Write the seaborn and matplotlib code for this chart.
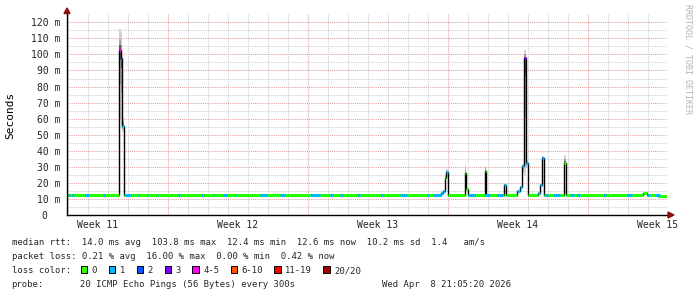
import numpy as np
import pandas as pd
import matplotlib
matplotlib.use("Agg")
import matplotlib.pyplot as plt
import seaborn as sns
from matplotlib.patches import Polygon, Rectangle

# ---------------- data ----------------
# time axis in days, 0 = start of week 12
day_start, day_end = -5.05, 24.95
week_labels = ["Week 11", "Week 12", "Week 13", "Week 14", "Week 15"]
week_centers = [-3.5, 3.5, 10.5, 17.5, 24.5]

base_rtt = 12.5  # ms, the usual median rtt

# departures of the median rtt from the base level (ms)
step_start = [-2.435, -2.375, -2.285, 13.65, 13.75, 13.825, 13.9, 14.825, 14.9,
              15.825, 16.8, 17.45, 17.6, 17.715, 17.8, 17.885, 18.5, 18.615,
              18.685, 19.775, 23.75, 24.5]
step_end = [-2.375, -2.285, -2.215, 13.75, 13.825, 13.9, 13.975, 14.9, 15.0,
            15.9, 16.9, 17.6, 17.715, 17.8, 17.885, 18.0, 18.615, 18.685,
            18.815, 19.875, 23.95, 24.95]
step_rtt = [103, 98, 55.5, 13.6, 15, 23, 26.7, 26, 16, 27.5, 18.5, 15, 17.5,
            30.5, 97.5, 32.5, 14, 18.5, 35.8, 32.5, 14, 11.7]
step_loss = [4, 2, 1, 1, 1, 0, 1, 0, 0, 0, 1, 1, 1, 1, 3, 1, 1, 1, 1, 0, 0, 0]
step_hi = [116, 114, 61, 13.6, 15.5, 25, 28.5, 31, 17, 30.5, 20, 15, 18, 32,
           103, 34, 14, 19, 36.5, 37.5, 14, 11.7]
step_lo = [60, 55, 52, 13.6, 15, 22, 25, 24, 16, 26, 18, 15, 17.5, 27, 25, 30,
           14, 18.5, 34, 31, 14, 11.7]

# stretches of the base line with 1 lost ping
cyan_start = [-5.0, -4.8, -4.15, -3.25, -2.15, -1.5, -1.05, -0.55, 0.5, 1.65,
              2.25, 2.75, 3.35, 4.6, 5.6, 7.1, 8.1, 8.6, 9.45, 10.65, 11.6,
              12.95, 13.25, 15.0, 15.85, 16.45, 18.85, 19.25, 20.1, 20.45,
              21.75, 22.95, 23.95, 24.35]
cyan_end = [-4.9, -4.7, -3.95, -3.15, -1.85, -1.45, -1.0, -0.5, 0.6, 1.75,
            2.3, 2.95, 3.4, 4.95, 5.85, 7.6, 8.25, 8.75, 9.6, 10.75, 11.95,
            13.05, 13.65, 15.35, 16.1, 16.75, 19.0, 19.6, 20.3, 20.6,
            21.9, 23.2, 24.1, 24.6]

loss_labels = ["0", "1", "2", "3", "4-5", "6-10", "11-19", "20/20"]
loss_colors = ["#26ff00", "#00b8ff", "#0059ff", "#7e00ff", "#ff00ff",
               "#ff5500", "#ff0000", "#a10000"]

y_ticks = list(range(0, 121, 10))
y_ticklabels = ["0  "] + [f"{v} m" for v in y_ticks[1:]]

legend_rows = [
    "median rtt:  14.0 ms avg  103.8 ms max  12.4 ms min  12.6 ms now  10.2 ms sd  1.4   am/s",
    "packet loss: 0.21 % avg  16.00 % max  0.00 % min  0.42 % now",
]
probe_text = "20 ICMP Echo Pings (56 Bytes) every 300s"
date_text = "Wed Apr  8 21:05:20 2026"

# ---------------- figure ----------------
W, H = 697, 297
sns.set_style("white")
plt.rcParams["font.family"] = ["DejaVu Sans Mono", "DejaVu Sans"]
MONO = "DejaVu Sans Mono"

fig = plt.figure(figsize=(W / 100, H / 100), dpi=100)
fig.patch.set_facecolor("white")
ax = fig.add_axes([67 / W, 1 - 215 / H, 600 / W, 202 / H])
ax.set_facecolor("white")
ax.set_xlim(day_start, day_end)
ax.set_ylim(0, 125.8)

# grid
major_c, minor_c = "#e4a0a0", "#cccccc"
dot = (0, (1, 1))
for yv in range(5, 121, 5):
    ax.axhline(yv, color=major_c if yv % 10 == 0 else minor_c, lw=0.75,
               ls=dot, zorder=0)
for d in range(-5, 25):
    ax.axvline(d, color=major_c if d % 7 == 0 else minor_c, lw=0.75,
               ls=dot, zorder=0)

# smoke
for s, e, v, lo, hi in zip(step_start, step_end, step_rtt, step_lo, step_hi):
    ax.fill_between([s, e], lo, hi, color="#d2d2d2", lw=0, zorder=1)
    ax.fill_between([s, e], v - 0.5 * (v - lo), v + 0.5 * (hi - v),
                    color="#a6a6a6", lw=0, zorder=1)
    ax.fill_between([s, e], v - 0.15 * (v - lo), v + 0.2 * (hi - v),
                    color="#5a5a5a", lw=0, zorder=1)

# median series
times, vals, losses = [], [], []
t = day_start
for s, e, v, l in sorted(zip(step_start, step_end, step_rtt, step_loss)):
    if s > t + 1e-9:
        times.append(t); vals.append(base_rtt); losses.append(0)
    times.append(s); vals.append(v); losses.append(l)
    t = e
if t < day_end - 1e-9:
    times.append(t); vals.append(base_rtt); losses.append(0)
times.append(day_end); vals.append(vals[-1]); losses.append(losses[-1])
df = pd.DataFrame({"day": times, "rtt": vals})

sns.lineplot(data=df, x="day", y="rtt", drawstyle="steps-post", color="black",
             lw=1.0, estimator=None, sort=False, ax=ax, zorder=3)

for i in range(len(times) - 1):
    ax.hlines(vals[i], times[i], times[i + 1], color=loss_colors[losses[i]],
              lw=2.2, zorder=4, capstyle="butt")
ax.hlines([base_rtt] * len(cyan_start), cyan_start, cyan_end,
          color=loss_colors[1], lw=2.2, zorder=4)

# axes
for sp in ["top", "right"]:
    ax.spines[sp].set_visible(False)
for sp in ["left", "bottom"]:
    ax.spines[sp].set_color("black")
    ax.spines[sp].set_linewidth(1.0)
    ax.spines[sp].set_zorder(5)

ax.set_yticks(y_ticks)
ax.set_yticklabels(y_ticklabels, fontfamily=MONO, fontsize=7)
ax.set_xticks(week_centers)
ax.set_xticklabels(week_labels, fontfamily=MONO, fontsize=7)
ax.tick_params(axis="y", length=0, pad=5)
ax.tick_params(axis="x", length=0, pad=3.5)
ax.set_xlabel("")
ax.set_ylabel("")
ax.grid(False)


def fx(x):
    return x / W


def fy(y):
    return 1 - y / H


# arrows
arrow_c = "#8b1010"
fig.add_artist(Polygon([(fx(64), fy(13.5)), (fx(70), fy(13.5)), (fx(67), fy(8))],
                       closed=True, color=arrow_c, transform=fig.transFigure))
fig.add_artist(Polygon([(fx(668), fy(212)), (fx(668), fy(218)), (fx(674), fy(215))],
                       closed=True, color=arrow_c, transform=fig.transFigure))

# labels
fig.text(fx(10), fy(115), "Seconds", rotation=90, ha="center", va="center",
         fontfamily=MONO, fontsize=8, color="black")
fig.text(fx(688), fy(4), "RRDTOOL / TOBI OETIKER", rotation=270, ha="center",
         va="top", fontfamily=MONO, fontsize=6, color="#b4b4b4")

LF = 6.4
fig.text(fx(11.5), fy(245), legend_rows[0], fontfamily=MONO, fontsize=LF,
         va="baseline", ha="left")
fig.text(fx(11.5), fy(259), legend_rows[1], fontfamily=MONO, fontsize=LF,
         va="baseline", ha="left")
fig.text(fx(11.5), fy(273), "loss color:", fontfamily=MONO, fontsize=LF,
         va="baseline", ha="left")
box_x = [81, 109, 137, 165, 192.3, 230.7, 274.3, 323.3]
text_x = [91.7, 119.7, 147.5, 175.5, 203.2, 241.2, 285.2, 334.2]
for bx, tx, lab, col in zip(box_x, text_x, loss_labels, loss_colors):
    fig.add_artist(Rectangle((fx(bx), fy(273.3)), 6.3 / W, 7.6 / H,
                             facecolor=col, edgecolor="black", lw=0.7,
                             transform=fig.transFigure))
    fig.text(fx(tx), fy(273), lab, fontfamily=MONO, fontsize=LF,
             va="baseline", ha="left")
fig.text(fx(11.5), fy(287), "probe:", fontfamily=MONO, fontsize=LF,
         va="baseline", ha="left")
fig.text(fx(80.2), fy(287), probe_text, fontfamily=MONO, fontsize=LF,
         va="baseline", ha="left")
fig.text(fx(511), fy(287), date_text, fontfamily=MONO, fontsize=LF,
         va="baseline", ha="right")

fig.savefig("out.png", dpi=100, facecolor="white")
